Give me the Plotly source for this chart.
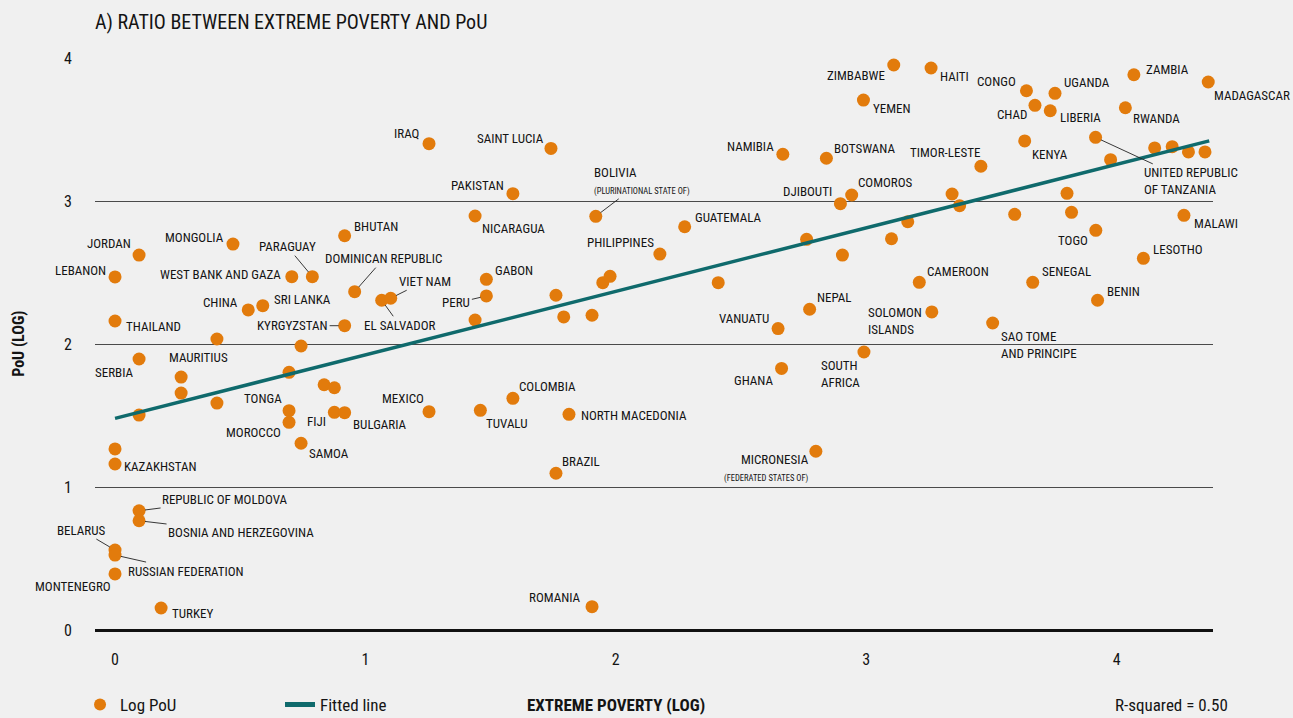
import plotly.graph_objects as go

# Log of extreme poverty rate (x) and log of prevalence of undernourishment (y)
countries = [
    "JORDAN", "LEBANON", "THAILAND", "SERBIA", "", "", "KAZAKHSTAN",
    "REPUBLIC OF MOLDOVA", "BOSNIA AND HERZEGOVINA", "BELARUS", "RUSSIAN FEDERATION",
    "MONTENEGRO", "TURKEY", "MONGOLIA", "", "MAURITIUS", "", "",
    "WEST BANK AND GAZA", "PARAGUAY", "CHINA", "SRI LANKA", "KYRGYZSTAN",
    "", "", "", "", "TONGA", "MOROCCO", "SAMOA", "FIJI", "BULGARIA",
    "MEXICO", "TUVALU", "BHUTAN", "DOMINICAN REPUBLIC", "EL SALVADOR", "VIET NAM",
    "IRAQ", "NICARAGUA", "PAKISTAN", "SAINT LUCIA", "GABON", "PERU", "",
    "BOLIVIA<br><span style='font-size:8.5px'>(PLURINATIONAL STATE OF)</span>",
    "GUATEMALA", "PHILIPPINES", "", "", "", "", "", "",
    "NAMIBIA", "", "VANUATU", "NEPAL", "COLOMBIA", "NORTH MACEDONIA", "BRAZIL",
    "ROMANIA", "GHANA",
    "MICRONESIA<br><span style='font-size:8.5px'>(FEDERATED STATES OF)</span>",
    "ZIMBABWE", "HAITI", "YEMEN", "CONGO", "UGANDA", "CHAD", "LIBERIA", "ZAMBIA",
    "RWANDA", "BOTSWANA", "TIMOR-LESTE", "KENYA",
    "UNITED REPUBLIC<br>OF TANZANIA", "", "DJIBOUTI", "COMOROS", "", "", "", "", "",
    "TOGO", "", "", "", "LESOTHO", "MADAGASCAR", "", "", "", "", "MALAWI", "BENIN",
    "CAMEROON", "SENEGAL", "SOLOMON<br>ISLANDS", "SAO TOME<br>AND PRINCIPE",
    "SOUTH<br>AFRICA",
]

extreme_poverty_log = [
    0.096, 0.0, 0.0, 0.096, 0.096, 0.0, 0.0,
    0.096, 0.096, 0.0, 0.0,
    0.0, 0.184, 0.471, 0.407, 0.264, 0.264, 0.407,
    0.706, 0.788, 0.532, 0.590, 0.917,
    0.743, 0.695, 0.835, 0.876, 0.695, 0.695, 0.743, 0.876, 0.917,
    1.254, 1.459, 0.917, 0.957, 1.065, 1.101,
    1.254, 1.438, 1.589, 1.741, 1.483, 1.483, 1.438,
    1.920,
    2.275, 2.176, 1.761, 1.792, 1.905, 1.948, 1.977, 2.409,
    2.667, 2.762, 2.648, 2.774, 1.589, 1.813, 1.761,
    1.905, 2.662,
    2.799,
    3.110, 3.259, 2.989, 3.640, 3.754, 3.674, 3.735, 4.069,
    4.035, 2.841, 3.458, 3.633,
    3.916, 3.976, 2.897, 2.942, 3.343, 3.373, 3.802, 3.820, 3.593,
    3.917, 3.166, 3.101, 2.905, 4.107, 4.366, 4.152, 4.222, 4.287, 4.353, 4.269, 3.924,
    3.212, 3.665, 3.262, 3.505,
    2.991,
]

pou_log = [
    2.622, 2.469, 2.161, 1.895, 1.503, 1.266, 1.161,
    0.834, 0.764, 0.559, 0.524,
    0.392, 0.154, 2.699, 2.035, 1.769, 1.657, 1.587,
    2.471, 2.471, 2.238, 2.268, 2.128,
    1.986, 1.802, 1.715, 1.694, 1.534, 1.452, 1.306, 1.522, 1.520,
    1.527, 1.536, 2.757, 2.366, 2.306, 2.320,
    3.401, 2.895, 3.051, 3.368, 2.452, 2.336, 2.168,
    2.893,
    2.820, 2.629, 2.341, 2.189, 2.201, 2.429, 2.473, 2.429,
    3.327, 2.732, 2.108, 2.243, 1.620, 1.508, 1.096,
    0.163, 1.829,
    1.250,
    3.951, 3.930, 3.706, 3.771, 3.753, 3.669, 3.631, 3.883,
    3.652, 3.299, 3.243, 3.420,
    3.445, 3.289, 2.981, 3.042, 3.049, 2.967, 3.054, 2.921, 2.907,
    2.795, 2.855, 2.736, 2.622, 2.599, 3.832, 3.371, 3.380, 3.343, 3.343, 2.900, 2.306,
    2.431, 2.431, 2.224, 2.147,
    1.944,
]

# Fitted regression line: log PoU = intercept + slope * log extreme poverty
fit_intercept = 1.48
fit_slope = 0.444
fit_x_range = [0.0, 4.37]
r_squared = 0.50

x_ticks = [0, 1, 2, 3, 4]
y_ticks = [0, 1, 2, 3, 4]

MICRONESIA = "MICRONESIA<br><span style='font-size:8.5px'>(FEDERATED STATES OF)</span>"

# Label placement: (anchor, x offset px, y offset px, screen-down positive)
plain_labels = {
    "JORDAN": ("right", -6, -12), "LEBANON": ("right", -7, -6),
    "THAILAND": ("left", 9, 6), "SERBIA": ("right", -3, 13),
    "MAURITIUS": ("left", -14, -20), "KAZAKHSTAN": ("left", 7, 3),
    "MONTENEGRO": ("right", -2, 13), "TURKEY": ("left", 9, 6),
    "MONGOLIA": ("right", -7, -7), "WEST BANK AND GAZA": ("right", -9, -2),
    "CHINA": ("right", -8, -7), "SRI LANKA": ("left", 9, -6),
    "BHUTAN": ("left", 7, -9), "IRAQ": ("right", -7, -10),
    "SAINT LUCIA": ("right", -5, -10), "PAKISTAN": ("right", -7, -8),
    "NICARAGUA": ("left", 5, 12), "GUATEMALA": ("left", 8, -9),
    "PHILIPPINES": ("right", -4, -12), "GABON": ("left", 7, -9),
    "MEXICO": ("right", -3, -13), "TUVALU": ("left", 4, 13),
    "COLOMBIA": ("left", 4, -12), "NORTH MACEDONIA": ("left", 10, 1),
    "BRAZIL": ("left", 4, -12), "ROMANIA": ("right", -9, -9),
    "TONGA": ("right", -5, -12), "MOROCCO": ("right", -6, 10),
    "FIJI": ("right", -6, 9), "BULGARIA": ("left", 6, 12),
    "SAMOA": ("left", 6, 10), "NAMIBIA": ("right", -7, -8),
    "BOTSWANA": ("left", 6, -10), "ZIMBABWE": ("right", -7, 10),
    "HAITI": ("left", 7, 8), "YEMEN": ("left", 8, 8),
    "CONGO": ("right", -8, -9), "UGANDA": ("left", 7, -11),
    "CHAD": ("right", -6, 9), "LIBERIA": ("left", 8, 7),
    "ZAMBIA": ("left", 10, -5), "MADAGASCAR": ("left", 4, 13),
    "RWANDA": ("left", 6, 11), "KENYA": ("left", 5, 14),
    "TIMOR-LESTE": ("right", 1, -14), "DJIBOUTI": ("right", -6, -12),
    "COMOROS": ("left", 4, -12), "TOGO": ("right", -6, 10),
    "MALAWI": ("left", 8, 8), "LESOTHO": ("left", 8, -9),
    "CAMEROON": ("left", 6, -11), "SENEGAL": ("left", 7, -11),
    "BENIN": ("left", 7, -9), "NEPAL": ("left", 5, -12),
    "VANUATU": ("right", -7, -10), "GHANA": ("right", -6, 12),
    "SOLOMON<br>ISLANDS": ("right", -8, 9),
    "SAO TOME<br>AND PRINCIPE": ("left", 6, 22),
    "SOUTH<br>AFRICA": ("right", -2, 22),
    MICRONESIA: ("right", -5, 17),
}
right_aligned = {MICRONESIA}

# Labels joined to their point by a leader line: text centre offset (ax, ay)
leader_labels = {
    "PARAGUAY": (-25, -30), "KYRGYZSTAN": (-52, 0),
    "DOMINICAN REPUBLIC": (29, -33), "VIET NAM": (34, -17),
    "EL SALVADOR": (18, 25), "PERU": (-30, 7),
    "BOLIVIA<br><span style='font-size:8.5px'>(PLURINATIONAL STATE OF)</span>": (46, -35),
    "REPUBLIC OF MOLDOVA": (86, -11), "BOSNIA AND HERZEGOVINA": (102, 12),
    "BELARUS": (-34, -20), "RUSSIAN FEDERATION": (71, 16),
    "UNITED REPUBLIC<br>OF TANZANIA": (95, 44),
}

FONT = ("Roboto Condensed, Open Sans Condensed, Noto Sans Condensed, "
        "Liberation Sans Narrow, DejaVu Sans Condensed, sans-serif")
TEXT = "#141414"
ORANGE = "#e27b0c"
TEAL = "#0f6a6c"
BG = "#f0f0f0"
LABEL_SIZE = 13

fig = go.Figure()

fig.add_trace(go.Scatter(
    x=extreme_poverty_log, y=pou_log, mode="markers", name="Log PoU",
    marker=dict(color=ORANGE, size=13, line=dict(width=0)),
    cliponaxis=False, hoverinfo="text", text=countries,
))

fit_y = [fit_intercept + fit_slope * v for v in fit_x_range]
fig.add_trace(go.Scatter(
    x=fit_x_range, y=fit_y, mode="lines", name="Fitted line",
    line=dict(color=TEAL, width=3.5), cliponaxis=False,
))

annotations = []
for name, xv, yv in zip(countries, extreme_poverty_log, pou_log):
    if not name:
        continue
    align = "right" if name in right_aligned else "left"
    if name in leader_labels:
        ax, ay = leader_labels[name]
        annotations.append(dict(
            x=xv, y=yv, text=name, showarrow=True, ax=ax, ay=ay,
            arrowhead=0, arrowwidth=0.9, arrowcolor="#222", standoff=6,
            align=align, font=dict(family=FONT, size=LABEL_SIZE, color=TEXT),
        ))
    else:
        anchor, dx, dy = plain_labels[name]
        annotations.append(dict(
            x=xv, y=yv, text=name, showarrow=False, xanchor=anchor,
            yanchor="middle", xshift=dx, yshift=-dy, align=align,
            font=dict(family=FONT, size=LABEL_SIZE, color=TEXT),
        ))

annotations += [
    dict(x=2, xref="x", y=-0.131, yref="paper", text="<b>EXTREME POVERTY (LOG)</b>",
         showarrow=False, xanchor="center", yanchor="middle",
         font=dict(family=FONT, size=17, color=TEXT)),
    dict(x=1.015, xref="paper", y=-0.131, yref="paper",
         text=f"R-squared = {r_squared:.2f}", showarrow=False,
         xanchor="right", yanchor="middle",
         font=dict(family=FONT, size=17, color=TEXT)),
    dict(x=-0.069, xref="paper", y=0.5, yref="paper", text="<b>PoU (LOG)</b>",
         textangle=-90, showarrow=False, xanchor="center", yanchor="middle",
         font=dict(family=FONT, size=16, color=TEXT)),
]

fig.update_layout(
    width=1293, height=718,
    margin=dict(l=95, r=80, t=58, b=88, autoexpand=False),
    paper_bgcolor=BG, plot_bgcolor=BG,
    title=dict(text="A) RATIO BETWEEN EXTREME POVERTY AND PoU",
               x=0, xref="paper", xanchor="left",
               y=1 - 22 / 718, yref="container", yanchor="middle",
               font=dict(family=FONT, size=20, color=TEXT)),
    font=dict(family=FONT, color=TEXT),
    showlegend=True,
    legend=dict(orientation="h", x=-0.0134, xanchor="left",
                y=-0.131, yanchor="middle", bgcolor="rgba(0,0,0,0)",
                font=dict(family=FONT, size=17, color=TEXT),
                itemsizing="constant", entrywidth=155, entrywidthmode="pixels"),
    annotations=annotations,
    hovermode="closest",
)

fig.update_xaxes(
    range=[-0.08, 4.385], tickvals=x_ticks, ticktext=[str(t) for t in x_ticks],
    showgrid=False, zeroline=False, showline=False, ticks="",
    ticklabelstandoff=18, tickfont=dict(family=FONT, size=16, color=TEXT),
)
fig.update_yaxes(
    range=[0, 4], tickvals=y_ticks, ticktext=[str(t) for t in y_ticks],
    showgrid=True, gridcolor="#4a4a4a", gridwidth=1.2,
    zeroline=True, zerolinecolor="#111", zerolinewidth=3,
    showline=False, ticks="", ticklabelstandoff=22,
    tickfont=dict(family=FONT, size=16, color=TEXT),
)

fig.write_html("out.html")
